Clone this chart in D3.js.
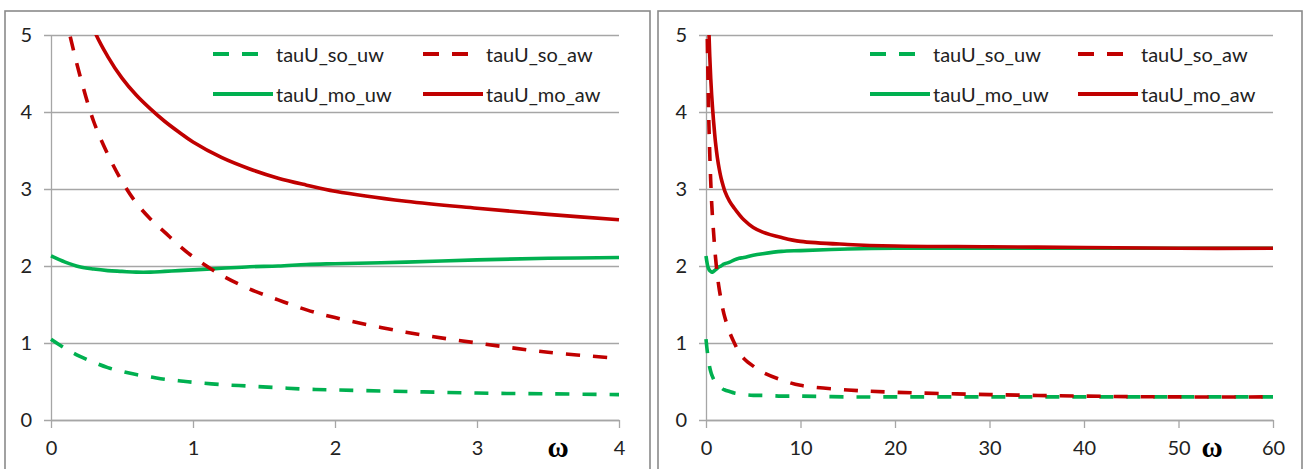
<!DOCTYPE html>
<html><head><meta charset="utf-8">
<script src="https://cdn.jsdelivr.net/npm/d3@7"></script>
<style>body{margin:0;background:#fff}svg{display:block}</style>
</head><body>
<svg id="c" width="1305" height="469"></svg>
<script>
// omega values shared by both panels
const omega = [0,0.1,0.2,0.3,0.4,0.5,0.6,0.7,0.8,0.9,1,1.2,1.4,1.6,1.8,2,2.5,3,3.5,4,5,6,8,10,15,20,30,40,50,60];
const tauU_so_uw = [1.05,0.93,0.83,0.75,0.68,0.63,0.59,0.56,0.53,0.51,0.49,0.46,0.44,0.42,0.40,0.39,0.37,0.35,0.34,0.33,0.32,0.32,0.31,0.31,0.30,0.30,0.30,0.30,0.30,0.30];
const tauU_so_aw = [6.0,5.25,4.5,3.88,3.45,3.1,2.82,2.61,2.44,2.27,2.12,1.88,1.7,1.56,1.43,1.33,1.14,1.0,0.88,0.8,0.7,0.62,0.52,0.45,0.39,0.36,0.33,0.31,0.30,0.30];
const tauU_mo_uw = [2.13,2.05,1.99,1.96,1.94,1.93,1.92,1.92,1.93,1.94,1.95,1.97,1.99,2.0,2.02,2.03,2.05,2.08,2.1,2.11,2.14,2.16,2.19,2.2,2.22,2.23,2.23,2.23,2.23,2.23];
const tauU_mo_aw = [7.6,6.6,5.75,5.08,4.72,4.44,4.22,4.04,3.88,3.74,3.61,3.41,3.26,3.14,3.05,2.97,2.84,2.75,2.67,2.6,2.5,2.44,2.37,2.32,2.28,2.26,2.25,2.24,2.23,2.23];
const yTicks = [0,1,2,3,4,5];
const xTicksLeft = [0,1,2,3,4];
const xTicksRight = [0,10,20,30,40,50,60];
const seriesNames = ["tauU_so_uw","tauU_so_aw","tauU_mo_uw","tauU_mo_aw"];

const GREEN = "#00B050", RED = "#C00000", GRID = "#a6a6a6", BORDER = "#8a8a8a";
const series = [
  {name:"tauU_so_uw", vals:tauU_so_uw, color:GREEN, dash:true},
  {name:"tauU_mo_uw", vals:tauU_mo_uw, color:GREEN, dash:false},
  {name:"tauU_so_aw", vals:tauU_so_aw, color:RED, dash:true},
  {name:"tauU_mo_aw", vals:tauU_mo_aw, color:RED, dash:false}
];
const legendOrder = [
  {name:seriesNames[0], color:GREEN, dash:true, col:0,row:0},
  {name:seriesNames[1], color:RED, dash:true, col:1,row:0},
  {name:seriesNames[2], color:GREEN, dash:false, col:0,row:1},
  {name:seriesNames[3], color:RED, dash:false, col:1,row:1}
];

const svg = d3.select("#c");
const FONT = "Lato, 'Open Sans', sans-serif";
const FS = 20;

const panels = [
  {id:"L", box:[5,11,645,470], px:[51,619], domain:[0,4], ticks:xTicksLeft, omegaX:558, legX:213, colGap:210},
  {id:"R", box:[658,11,644,470], px:[706,1273], domain:[0,60], ticks:xTicksRight, omegaX:1212, legX:870, colGap:208}
];
const y = d3.scaleLinear().domain([0,5]).range([420,35]);

panels.forEach(p => {
  const g = svg.append("g");
  g.append("rect").attr("x",p.box[0]).attr("y",p.box[1]).attr("width",p.box[2]).attr("height",p.box[3])
    .attr("fill","#fff").attr("stroke",BORDER).attr("stroke-width",1.6);
  const x = d3.scaleLinear().domain(p.domain).range(p.px);
  // y gridlines & axis
  const yAx = d3.axisLeft(y).tickValues(yTicks).tickSize(-(p.px[1]-p.px[0])).tickSizeOuter(0).tickPadding(19).tickFormat(d3.format("d"));
  const ga = g.append("g").attr("transform",`translate(${p.px[0]},0)`).call(yAx);
  ga.select(".domain").attr("stroke",GRID).attr("stroke-width",1.3);
  ga.selectAll(".tick line").attr("stroke",GRID).attr("stroke-width",1.3).attr("x1",-7);
  ga.selectAll(".tick text").attr("font-family",FONT).attr("font-size",FS).attr("fill","#222");
  // x axis
  const xAx = d3.axisBottom(x).tickValues(p.ticks).tickSize(8).tickSizeOuter(0).tickPadding(13).tickFormat(d3.format("d"));
  const gx = g.append("g").attr("transform","translate(0,420)").call(xAx);
  gx.select(".domain").attr("stroke",GRID).attr("stroke-width",1.3);
  gx.selectAll(".tick line").attr("stroke",GRID).attr("stroke-width",1.3);
  gx.selectAll(".tick text").attr("font-family",FONT).attr("font-size",FS).attr("fill","#222");
  // omega label
  g.append("text").attr("x",p.omegaX).attr("y",447).attr("text-anchor","middle").attr("dominant-baseline","central")
    .attr("font-family","'Liberation Serif', 'DejaVu Serif', serif").attr("font-weight","bold").attr("font-size",29).text("ω");
  // clip
  const cid = "clip"+p.id;
  svg.append("clipPath").attr("id",cid).append("rect").attr("x",p.px[0]-4).attr("y",35).attr("width",p.px[1]-p.px[0]+8).attr("height",386);
  const pts = omega.map((o,i)=>i).filter(i => omega[i] <= p.domain[1]);
  const line = d3.line().x(i=>x(omega[i])).curve(d3.curveCatmullRom.alpha(0.5));
  series.forEach(s => {
    g.append("path").attr("clip-path",`url(#${cid})`)
      .datum(pts).attr("d", line.y(i=>y(s.vals[i])))
      .attr("fill","none").attr("stroke",s.color).attr("stroke-width",3.6)
      .attr("stroke-dasharray", s.dash ? "14,13" : null);
  });
  // legend
  legendOrder.forEach(l => {
    const lx = p.legX + l.col*p.colGap, ly = 54 + l.row*40;
    g.append("line").attr("x1",lx).attr("x2",l.dash?lx+45:lx+60).attr("y1",ly).attr("y2",ly)
      .attr("stroke",l.color).attr("stroke-width",4).attr("stroke-dasharray",l.dash?"16,13":null);
    g.append("text").attr("x",lx+63).attr("y",ly).attr("dominant-baseline","central")
      .attr("font-family",FONT).attr("font-size",FS).attr("fill","#222").text(l.name);
  });
});
</script>
</body></html>
